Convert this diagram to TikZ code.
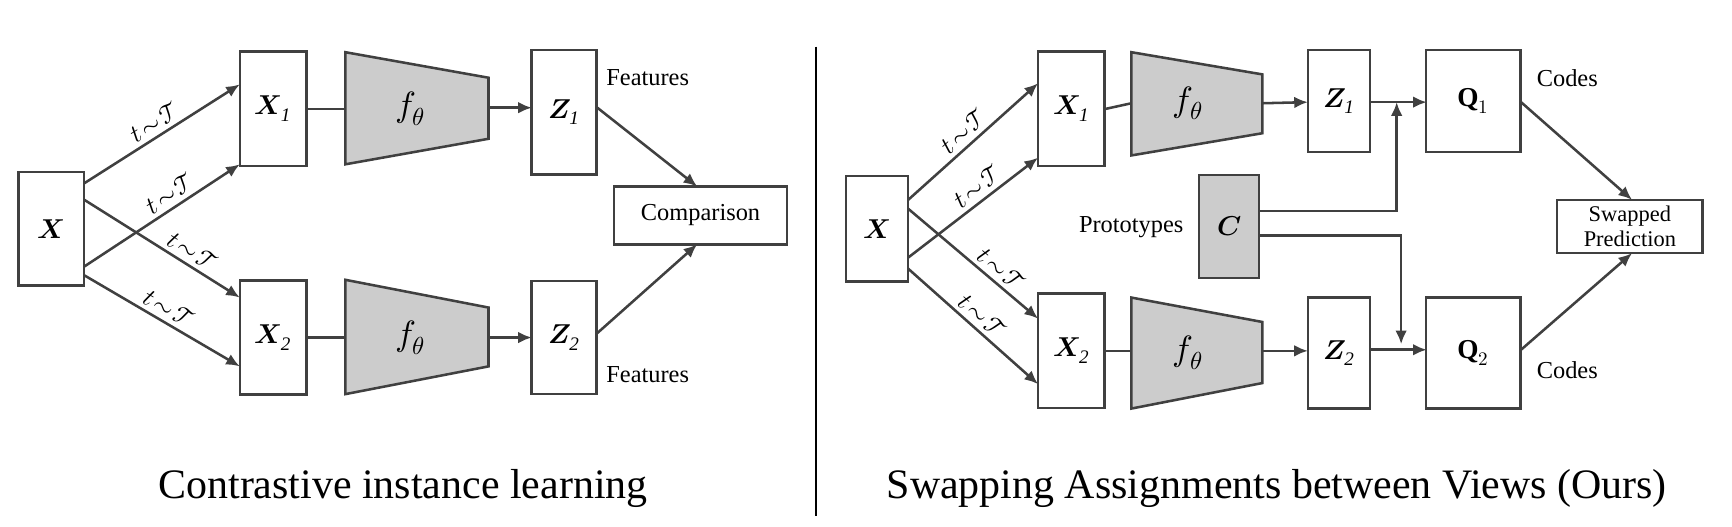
\documentclass[tikz,border=0pt]{standalone}
\usetikzlibrary{arrows.meta}
\usepackage{fontspec}
\usepackage{unicode-math}
\setmathfont{Latin Modern Math}
\setmainfont{Liberation Serif}
\newfontfamily\tms{Liberation Serif}
\begin{document}
\begin{tikzpicture}[x=0.02cm,y=-0.02cm,font=\tms,
  bx/.style={draw=black!75,line width=1.3pt,minimum width=#1*0.02cm,inner sep=0pt,font=\tms\fontsize{14}{14}\selectfont},
  ln/.style={draw=black!75,line width=1.3pt},
  ar/.style={ln,-{Latex[length=7pt,width=6pt]}},
  tr/.style={fill=black!20,draw=black!75,line width=1.3pt},
  tt/.style={font=\fontsize{13}{13}\selectfont,sloped,above,inner sep=2pt},
  lb/.style={font=\tms\fontsize{12.5}{14}\selectfont}]
\useasboundingbox (0,0) rectangle (1560,474);
% left
\node[bx=59,minimum height=0.02cm*102] (X) at (46,206) {$\symbfit{X}$};
\node[bx=60,minimum height=0.02cm*103] (X1) at (246,98) {$\symbfit{X}_{\mathit{1}}$};
\node[bx=60,minimum height=0.02cm*103] (X2) at (246,304) {$\symbfit{X}_{\mathit{2}}$};
\node[bx=59,minimum height=0.02cm*112] (Z1) at (508,101) {$\symbfit{Z}_{\mathit{1}}$};
\node[bx=59,minimum height=0.02cm*102] (Z2) at (508,304) {$\symbfit{Z}_{\mathit{2}}$};
\node[bx=156,minimum height=0.02cm*52,lb] (cmp) at (631,194) {Comparison};
\node[lb,anchor=west] (fa) at (540,70) {Features};
\node[lb,anchor=west] (fb) at (540,337) {Features};
\draw[tr] (311,47) -- (440,70) -- (440,125) -- (311,148) -- cycle;
\node[font=\fontsize{18}{18}\selectfont] (f1) at (370,98) {$f_\theta$};
\draw[tr] (311,252) -- (440,277) -- (440,330) -- (311,355) -- cycle;
\node[font=\fontsize{18}{18}\selectfont] (f2) at (370,304) {$f_\theta$};
\coordinate (la) at (76,165); \coordinate (lb) at (76,180);
\coordinate (lc) at (76,240); \coordinate (ld) at (76,248);
\draw[ar] (la) -- node[tt]{$t\!\sim\!\mathcal{T}$} (216,76);
\draw[ar] (lc) -- node[tt,pos=0.6]{$t\!\sim\!\mathcal{T}$} (216,148);
\draw[ar] (lb) -- node[tt,pos=0.65]{$t\!\sim\!\mathcal{T}$} (216,268);
\draw[ar] (ld) -- node[tt]{$t\!\sim\!\mathcal{T}$} (216,330);
\draw[ln] (X1.east) -- (311,98);
\draw[ln] (X2.east) -- (311,304);
\draw[ar] (440,97) -- (479,97);
\draw[ar] (440,304) -- (479,304);
\draw[ar] (538,97) -- (628,168);
\draw[ar] (538,300) -- (628,220);
\draw[black,line width=0.8pt] (735,42) -- (735,465);
\node[font=\tms\fontsize{21.5}{22}\selectfont] (c1) at (363,440) {Contrastive instance learning};
\node[font=\tms\fontsize{21.5}{22}\selectfont] (c2) at (1150,440) {Swapping Assignments between Views (Ours)};
% right
\node[bx=56,minimum height=0.02cm*95] (RX) at (790,206) {$\symbfit{X}$};
\node[bx=60,minimum height=0.02cm*103] (RX1) at (965,98) {$\symbfit{X}_{\mathit{1}}$};
\node[bx=60,minimum height=0.02cm*103] (RX2) at (965,316) {$\symbfit{X}_{\mathit{2}}$};
\node[bx=56,minimum height=0.02cm*92] (RZ1) at (1206,91) {$\symbfit{Z}_{\mathit{1}}$};
\node[bx=56,minimum height=0.02cm*100] (RZ2) at (1206,318) {$\symbfit{Z}_{\mathit{2}}$};
\node[bx=85,minimum height=0.02cm*92] (Q1) at (1327,91) {$\mathbf{Q}_{1}$};
\node[bx=85,minimum height=0.02cm*100] (Q2) at (1327,318) {$\mathbf{Q}_{2}$};
\node[bx=54,minimum height=0.02cm*93,fill=black!20] (C) at (1107,204) {$\symbfit{C}$};
\node[lb,anchor=east] (pt) at (1072,205) {Prototypes};
\node[lb,anchor=west] (ca) at (1378,70) {Codes};
\node[lb,anchor=west] (cb) at (1378,333) {Codes};
\node[bx=131,minimum height=0.02cm*48,font=\tms\fontsize{11.5}{12.5}\selectfont,align=center] (sp) at (1468,204) {Swapped\\Prediction};
\draw[tr] (1019,47) -- (1137,67) -- (1137,120) -- (1019,140) -- cycle;
\node[font=\fontsize{18}{18}\selectfont] (f3) at (1070,93) {$f_\theta$};
\draw[tr] (1019,268) -- (1137,290) -- (1137,345) -- (1019,368) -- cycle;
\node[font=\fontsize{18}{18}\selectfont] (f4) at (1070,318) {$f_\theta$};
\coordinate (ra) at (818,180); \coordinate (rb) at (818,188);
\coordinate (rc) at (818,232); \coordinate (rd) at (818,242);
\draw[ar] (ra) -- node[tt]{$t\!\sim\!\mathcal{T}$} (935,75);
\draw[ar] (rc) -- node[tt,pos=0.6]{$t\!\sim\!\mathcal{T}$} (935,142);
\draw[ar] (rb) -- node[tt,pos=0.65]{$t\!\sim\!\mathcal{T}$} (935,287);
\draw[ar] (rd) -- node[tt]{$t\!\sim\!\mathcal{T}$} (935,346);
\draw[ln] (RX1.east) -- (1019,93);
\draw[ln] (RX2.east) -- (1019,316);
\draw[ar] (1137,93) -- (1178,92);
\draw[ar] (1137,316) -- (1178,316);
\draw[ar] (1234,92) -- (1285,92);
\draw[ar] (1234,315) -- (1285,315);
\draw[ar] (1134,190) -- (1258,190) -- (1258,92);
\draw[ar] (1134,212) -- (1262,212) -- (1262,310);
\draw[ar] (1370,92) -- (1470,180);
\draw[ar] (1370,315) -- (1470,228);
\end{tikzpicture}
\end{document}
